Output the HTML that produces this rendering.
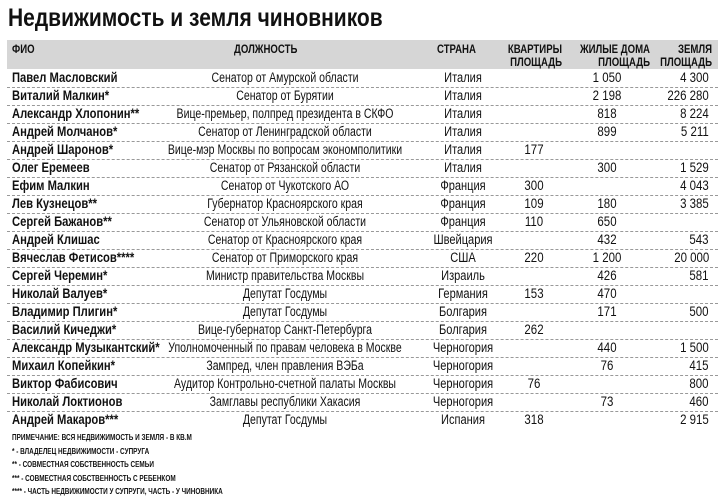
<!DOCTYPE html>
<html><head><meta charset="utf-8"><style>
body{margin:0;width:721px;height:499px;background:#fff;overflow:hidden;position:relative;font-family:"Liberation Sans",sans-serif;color:#111}
.t{position:absolute;left:8px;top:4px;font:bold 25px "Liberation Sans",sans-serif;transform:scaleX(.84);transform-origin:left;white-space:nowrap}
.hd{position:absolute;left:7px;top:40px;width:711px;height:29px;background:#d6d6d6}
.h{position:absolute;font-weight:bold;font-size:12px;line-height:13px;white-space:nowrap;transform:scaleX(.8)}
.r{position:absolute;left:7px;width:711px;height:18px;border-bottom:1px dashed #999;font-size:13.5px;line-height:18px;white-space:nowrap}
.r span{position:absolute;top:0;line-height:18px}
.n{left:5px;font-weight:bold;transform:scaleX(.83);transform-origin:left}
.p{left:278px;transform:translateX(-50%) scaleX(.78)}
.c{left:456px;transform:translateX(-50%) scaleX(.82)}
.a{left:527px;transform:translateX(-50%) scaleX(.85)}
.ho{left:600px;transform:translateX(-50%) scaleX(.85)}
.l{right:9px;transform:scaleX(.85);transform-origin:right}
.f{position:absolute;left:12px;font-weight:bold;font-size:8px;white-space:nowrap;transform:scaleX(.8);transform-origin:left}
</style></head><body>
<div class="t">Недвижимость и земля чиновников</div>
<div class="hd"></div>
<div class="h" style="left:12px;top:43px;transform-origin:left">ФИО</div>
<div class="h" style="left:234px;top:43px;transform-origin:left">ДОЛЖНОСТЬ</div>
<div class="h" style="left:437px;top:43px;transform-origin:left">СТРАНА</div>
<div class="h" style="left:462px;top:43px;text-align:right;width:100px;transform-origin:right">КВАРТИРЫ<br>ПЛОЩАДЬ</div>
<div class="h" style="left:550px;top:43px;text-align:right;width:100px;transform-origin:right">ЖИЛЫЕ ДОМА<br>ПЛОЩАДЬ</div>
<div class="h" style="left:612px;top:43px;text-align:right;width:100px;transform-origin:right">ЗЕМЛЯ<br>ПЛОЩАДЬ</div>

<div class="r" style="top:69px"><span class="n">Павел Масловский</span><span class="p">Сенатор от Амурской области</span><span class="c">Италия</span><span class="ho">1 050</span><span class="l">4 300</span></div>
<div class="r" style="top:87px"><span class="n">Виталий Малкин*</span><span class="p">Сенатор от Бурятии</span><span class="c">Италия</span><span class="ho">2 198</span><span class="l">226 280</span></div>
<div class="r" style="top:105px"><span class="n">Александр Хлопонин**</span><span class="p">Вице-премьер, полпред президента в СКФО</span><span class="c">Италия</span><span class="ho">818</span><span class="l">8 224</span></div>
<div class="r" style="top:123px"><span class="n">Андрей Молчанов*</span><span class="p">Сенатор от Ленинградской области</span><span class="c">Италия</span><span class="ho">899</span><span class="l">5 211</span></div>
<div class="r" style="top:141px"><span class="n">Андрей Шаронов*</span><span class="p">Вице-мэр Москвы по вопросам экономполитики</span><span class="c">Италия</span><span class="a">177</span></div>
<div class="r" style="top:159px"><span class="n">Олег Еремеев</span><span class="p">Сенатор от Рязанской области</span><span class="c">Италия</span><span class="ho">300</span><span class="l">1 529</span></div>
<div class="r" style="top:177px"><span class="n">Ефим Малкин</span><span class="p">Сенатор от Чукотского АО</span><span class="c">Франция</span><span class="a">300</span><span class="l">4 043</span></div>
<div class="r" style="top:195px"><span class="n">Лев Кузнецов**</span><span class="p">Губернатор Красноярского края</span><span class="c">Франция</span><span class="a">109</span><span class="ho">180</span><span class="l">3 385</span></div>
<div class="r" style="top:213px"><span class="n">Сергей Бажанов**</span><span class="p">Сенатор от Ульяновской области</span><span class="c">Франция</span><span class="a">110</span><span class="ho">650</span></div>
<div class="r" style="top:231px"><span class="n">Андрей Клишас</span><span class="p">Сенатор от Красноярского края</span><span class="c">Швейцария</span><span class="ho">432</span><span class="l">543</span></div>
<div class="r" style="top:249px"><span class="n">Вячеслав Фетисов****</span><span class="p">Сенатор от Приморского края</span><span class="c">США</span><span class="a">220</span><span class="ho">1 200</span><span class="l">20 000</span></div>
<div class="r" style="top:267px"><span class="n">Сергей Черемин*</span><span class="p">Министр правительства Москвы</span><span class="c">Израиль</span><span class="ho">426</span><span class="l">581</span></div>
<div class="r" style="top:285px"><span class="n">Николай Валуев*</span><span class="p">Депутат Госдумы</span><span class="c">Германия</span><span class="a">153</span><span class="ho">470</span></div>
<div class="r" style="top:303px"><span class="n">Владимир Плигин*</span><span class="p">Депутат Госдумы</span><span class="c">Болгария</span><span class="ho">171</span><span class="l">500</span></div>
<div class="r" style="top:321px"><span class="n">Василий Кичеджи*</span><span class="p">Вице-губернатор Санкт-Петербурга</span><span class="c">Болгария</span><span class="a">262</span></div>
<div class="r" style="top:339px"><span class="n">Александр Музыкантский*</span><span class="p">Уполномоченный по правам человека в Москве</span><span class="c">Черногория</span><span class="ho">440</span><span class="l">1 500</span></div>
<div class="r" style="top:357px"><span class="n">Михаил Копейкин*</span><span class="p">Зампред, член правления ВЭБа</span><span class="c">Черногория</span><span class="ho">76</span><span class="l">415</span></div>
<div class="r" style="top:375px"><span class="n">Виктор Фабисович</span><span class="p">Аудитор Контрольно-счетной палаты Москвы</span><span class="c">Черногория</span><span class="a">76</span><span class="l">800</span></div>
<div class="r" style="top:393px"><span class="n">Николай Локтионов</span><span class="p">Замглавы республики Хакасия</span><span class="c">Черногория</span><span class="ho">73</span><span class="l">460</span></div>
<div class="r" style="top:411px;border-bottom:none"><span class="n">Андрей Макаров***</span><span class="p">Депутат Госдумы</span><span class="c">Испания</span><span class="a">318</span><span class="l">2 915</span></div>

<div class="f" style="top:433px">ПРИМЕЧАНИЕ: ВСЯ НЕДВИЖИМОСТЬ И ЗЕМЛЯ - В КВ.М</div>
<div class="f" style="top:447px">* - ВЛАДЕЛЕЦ НЕДВИЖИМОСТИ - СУПРУГА</div>
<div class="f" style="top:460px">** - СОВМЕСТНАЯ СОБСТВЕННОСТЬ СЕМЬИ</div>
<div class="f" style="top:474px">*** - СОВМЕСТНАЯ СОБСТВЕННОСТЬ С РЕБЕНКОМ</div>
<div class="f" style="top:487px">**** - ЧАСТЬ НЕДВИЖИМОСТИ У СУПРУГИ, ЧАСТЬ - У ЧИНОВНИКА</div>
</body></html>
